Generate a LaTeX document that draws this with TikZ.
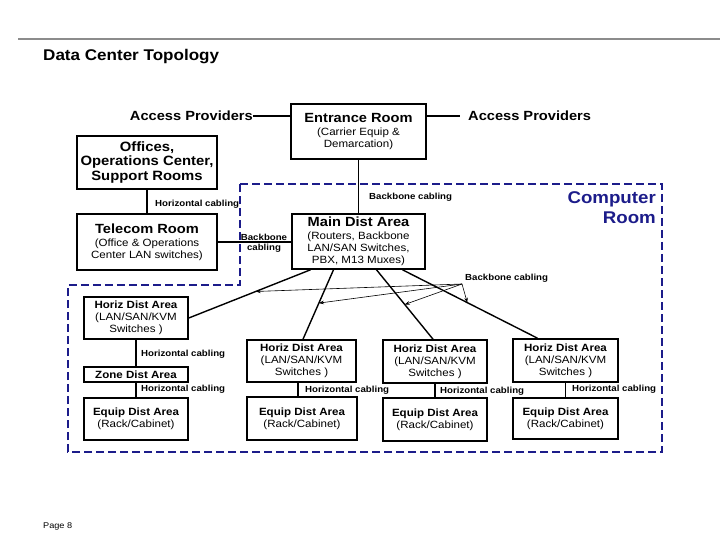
\documentclass[tikz,border=0pt]{standalone}
\usepackage{fontspec}
\setmainfont[FakeStretch=1.1]{Liberation Sans}
\usetikzlibrary{calc,arrows.meta}
\definecolor{navy}{HTML}{1C1C8A}
\definecolor{rule}{HTML}{8C8C8C}
\tikzset{
  box/.style={draw=black, line width=1.6pt, inner sep=0pt, align=center, fill=white},
  sub/.style={font=\fontsize{10.5}{12}\selectfont},
  lab/.style={font=\fontsize{8.8}{10}\selectfont\bfseries, inner sep=0pt, anchor=west},
  conn/.style={line width=1.4pt},
  thinarrow/.style={line width=0.6pt, -{Stealth[length=5pt,width=3.6pt]}},
  room/.style={draw=navy, line width=2.5pt, dash pattern=on 8pt off 4pt},
}
\newcommand{\bigb}[1]{{\fontsize{13.3}{15}\selectfont\bfseries #1}}
\newcommand{\midb}[1]{{\fontsize{10.5}{12}\selectfont\bfseries #1}}
\begin{document}
\begin{tikzpicture}[x=1pt,y=-1pt]
\useasboundingbox (0,0) rectangle (720,540);
% header
\draw[rule, line width=1.2pt] (18,39) coordinate (r1) -- (720,39) coordinate (r2);
\node[anchor=west, inner sep=0pt, font=\fontsize{15.5}{17}\selectfont\bfseries] (title) at (43,57) {Data Center Topology};
\node[anchor=west, inner sep=0pt, font=\fontsize{8.3}{9}\selectfont] (page) at (43,526) {Page 8};

% computer room region
\draw[room] (240,184) -- (662,184) -- (662,452) -- (68,452) -- (68,285) -- (240,285) -- cycle;
\node[anchor=east, align=right, inner sep=0pt, text=navy, font=\fontsize{17}{20}\selectfont\bfseries] (cr) at (656,208) {Computer\\Room};

% upper boxes
\node[box, sub, minimum width=135, minimum height=55] (ent) at (358.5,131.5)
  {\bigb{Entrance Room}\\[1.5pt](Carrier Equip \&\\Demarcation)};
\node[box, minimum width=140, minimum height=53, font=\fontsize{13.5}{14.6}\selectfont\bfseries] (off) at (147,162.5)
  {Offices,\\Operations Center,\\Support Rooms};
\node[box, sub, minimum width=140, minimum height=56] (tel) at (147,242)
  {\bigb{Telecom Room}\\[1pt](Office \& Operations\\Center LAN switches)};
\node[box, sub, minimum width=133, minimum height=55] (mda) at (358.5,241.5)
  {\bigb{Main Dist Area}\\[1pt](Routers, Backbone\\LAN/SAN Switches,\\PBX, M13 Muxes)};

% access providers
\node[anchor=east, inner sep=0pt, font=\fontsize{13.3}{15}\selectfont\bfseries] (apl) at (253,116) {Access Providers};
\node[anchor=west, inner sep=0pt, font=\fontsize{13.3}{15}\selectfont\bfseries] (apr) at (468,116) {Access Providers};
\draw[conn] (apl.east) -- (apl.east -| ent.west);
\draw[conn] (apr.west -| ent.east) -- ([xshift=-8pt]apr.west);

% lower boxes
\node[box, sub, minimum width=104, minimum height=42] (hda1) at (136,318)
  {\midb{Horiz Dist Area}\\(LAN/SAN/KVM\\Switches )};
\node[box, minimum width=104, minimum height=15, font=\fontsize{10.5}{12}\selectfont\bfseries] (zone) at (136,374.5)
  {Zone Dist Area};
\node[box, sub, minimum width=104, minimum height=42] (eq1) at (136,419)
  {\midb{Equip Dist Area}\\(Rack/Cabinet)};

\node[box, sub, minimum width=109, minimum height=42] (hda2) at (301.5,361)
  {\midb{Horiz Dist Area}\\(LAN/SAN/KVM\\Switches )};
\node[box, sub, minimum width=110, minimum height=43] (eq2) at (302,418.5)
  {\midb{Equip Dist Area}\\(Rack/Cabinet)};

\node[box, sub, minimum width=104, minimum height=43] (hda3) at (435,361.5)
  {\midb{Horiz Dist Area}\\(LAN/SAN/KVM\\Switches )};
\node[box, sub, minimum width=104, minimum height=43] (eq3) at (435,419.5)
  {\midb{Equip Dist Area}\\(Rack/Cabinet)};

\node[box, sub, minimum width=105, minimum height=43] (hda4) at (565.5,360.5)
  {\midb{Horiz Dist Area}\\(LAN/SAN/KVM\\Switches )};
\node[box, sub, minimum width=105, minimum height=41] (eq4) at (565.5,418.5)
  {\midb{Equip Dist Area}\\(Rack/Cabinet)};

% vertical / horizontal links
\draw[conn] (off) -- (tel);
\draw[conn] (ent) -- (mda);
\draw[conn] (tel.east) -- (tel.east -| mda.west);
\draw[conn] (hda1) -- (zone);
\draw[conn] (zone) -- (eq1);
\draw[conn] ([xshift=-3.5pt]hda2.south) -- ([xshift=-3.5pt]hda2.south |- eq2.north);
\draw[conn] (hda3) -- (eq3);
\draw[conn] (hda4) -- (eq4);

% backbone from MDA
\draw[conn] ([xshift=-48pt]mda.south) -- (hda1.east) coordinate[pos=0.45] (p1);
\draw[conn] ([xshift=-25pt]mda.south) -- ([xshift=1.5pt]hda2.north) coordinate[pos=0.48] (p2);
\draw[conn] ([xshift=18pt]mda.south) -- ([xshift=-2pt]hda3.north) coordinate[pos=0.5] (p3);
\draw[conn] ([xshift=44pt]mda.south) -- ([xshift=-28pt]hda4.north) coordinate[pos=0.48] (p4);

% labels
\node[lab] (l1) at (155,204) {Horizontal cabling};
\node[lab] (l2) at (369,197) {Backbone cabling};
\node[lab, anchor=center, align=center, font=\fontsize{8.8}{10}\selectfont\bfseries] (l3) at (264,243) {Backbone\\cabling};
\node[lab] (l4) at (465,278) {Backbone cabling};
\node[lab] (l5) at (141,354) {Horizontal cabling};
\node[lab] (l6) at (141,389) {Horizontal cabling};
\node[lab] (l7) at (305,390) {Horizontal cabling};
\node[lab] (l8) at (440,391) {Horizontal cabling};
\node[lab] (l9) at (572,389) {Horizontal cabling};

% arrows from label
\coordinate (ao) at (462,284);
\draw[thinarrow] (ao) -- (p1);
\draw[thinarrow] (ao) -- (p2);
\draw[thinarrow] (ao) -- (p3);
\draw[thinarrow] (ao) -- (p4);
\end{tikzpicture}
\end{document}
